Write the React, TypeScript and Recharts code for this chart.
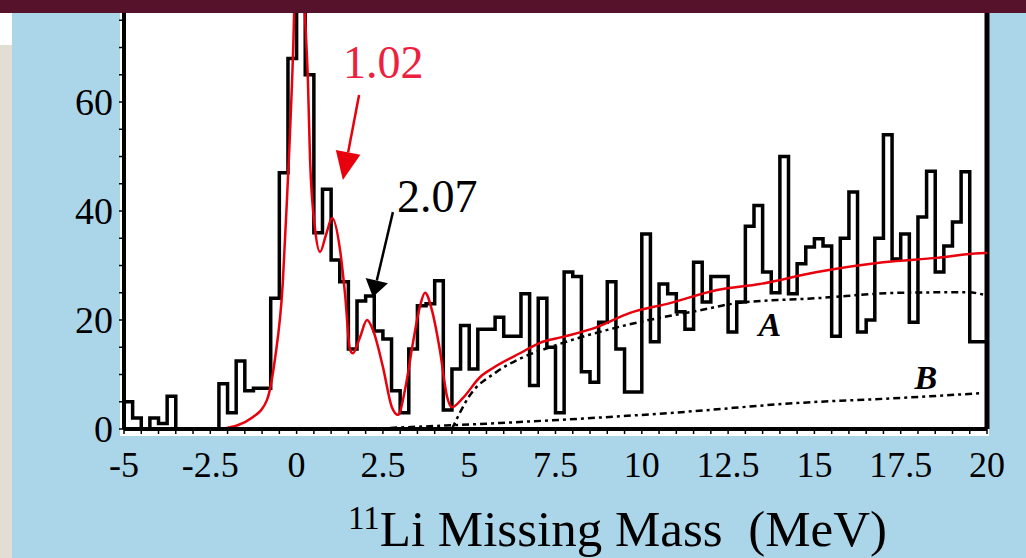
import React from 'react';
import { ComposedChart, Line, XAxis, YAxis, ReferenceLine, ReferenceDot } from 'recharts';

const SERIF = "'Liberation Serif', 'Times New Roman', serif";

// Histogram: bins of 0.25 MeV starting at -5 MeV (counts per bin)
const binStart = -5;
const binWidth = 0.25;
const counts = [
  5, 2, 0, 2, 1, 6, 0, 0, 0, 0,
  0, 8.3, 3, 12.5, 7, 7.5, 7.5, 24, 47, 68,
  110, 65, 36, 44, 31, 27, 14.7, 23.5, 24.4, 18,
  16.5, 7, 3, 14.7, 22.6, 23, 27.2, 3.5, 11, 19,
  11, 18.3, 18.3, 20.5, 17, 17, 24.8, 8, 24, 15,
  3, 28.8, 28, 10.5, 8.6, 19.6, 27, 14.7, 6.8, 6.8,
  35.8, 16, 26.6, 24.8, 21.5, 18.3, 30.6, 23.3, 28, 28,
  17.8, 23.3, 37.2, 41, 28.8, 25, 50, 24.8, 30.3, 33.4,
  34.9, 33.6, 17, 35, 43.5, 17.8, 20, 35, 54, 31.2,
  35.8, 19.6, 38.9, 47.3, 28.8, 33.6, 38, 47.2, 16, 16,
];

// Red fit curve
const fitE = [-2.16, -1.26, -0.86, -0.63, -0.4, -0.28, -0.1, 0.07, 0.24, 0.33, 0.39, 0.53, 0.68, 0.85, 1.03, 1.26, 1.4, 1.55, 1.63, 1.84, 2.04, 2.21, 2.5, 2.76, 2.94, 3.14, 3.37, 3.57, 3.72, 3.92, 4.15, 4.36, 4.5, 4.82, 5.31, 5.69, 6.47, 7.05, 7.72, 8.7, 9.66, 10.82, 12.18, 13.42, 15.08, 16.99, 18.55, 19.94, 20];
const fitV = [0, 2.2, 5.3, 12.7, 26.8, 42, 69.5, 110, 76.5, 63.5, 49.4, 37, 32.5, 35.6, 38.7, 32.8, 25, 14.5, 13.9, 16.9, 20, 18.2, 11.4, 4, 2.6, 7.2, 15.8, 22.4, 25, 21.8, 14.5, 5.9, 4, 5.7, 9.5, 11.2, 13.9, 15.8, 16.9, 18.7, 21.3, 23.1, 25.5, 26.6, 28.8, 30.6, 31.4, 32.3, 32.3];

// Background curve A
const curveAE = [4.5, 5.0, 5.8, 6.5, 7.34, 9.57, 11.69, 12.76, 15.07, 17.5, 19.42, 19.94];
const curveAV = [0, 6, 10.5, 13, 15, 19.1, 21.8, 23.1, 24, 25, 25.1, 24.6];

// Background curve B
const curveBE = [2.71, 5.89, 10.73, 14.58, 17.5, 19.88];
const curveBV = [0.2, 1.1, 2.9, 4.8, 5.7, 6.6];

const xMajorTicks = [-5, -2.5, 0, 2.5, 5, 7.5, 10, 12.5, 15, 17.5, 20];
const xTickLabels = ['-5', '-2.5', '0', '2.5', '5', '7.5', '10', '12.5', '15', '17.5', '20'];
const yMajorTicks = [0, 20, 40, 60, 80];
const yTickLabels = ['0', '20', '40', '60', '80'];

const xMinorTicks = Array.from({ length: 51 }, (_, i) => -5 + i * 0.5);
const yMinorTicks = Array.from({ length: 17 }, (_, i) => i * 5);

const histData = counts
  .map((c, i) => ({ x: binStart + i * binWidth, y: c }))
  .concat([{ x: 20, y: counts[counts.length - 1] }]);
const fitData = fitE.map((e, i) => ({ x: e, y: fitV[i] }));
const aData = curveAE.map((e, i) => ({ x: e, y: curveAV[i] }));
const bData = curveBE.map((e, i) => ({ x: e, y: curveBV[i] }));

const XTick = (props: any) => {
  const { x, y, payload } = props;
  const idx = xMajorTicks.indexOf(payload.value);
  if (idx < 0) return <g />;
  return (
    <text x={x} y={y + 31} textAnchor="middle" dominantBaseline="central" fontSize={36} fontFamily={SERIF} fill="#000">
      {xTickLabels[idx]}
    </text>
  );
};

const YTick = (props: any) => {
  const { x, y, payload } = props;
  const idx = yMajorTicks.indexOf(payload.value);
  if (idx < 0) return <g />;
  return (
    <text x={x - 6} y={y} textAnchor="end" dominantBaseline="central" fontSize={38} fontFamily={SERIF} fill="#000">
      {yTickLabels[idx]}
    </text>
  );
};

const makeArrow = (color: string, label: string, labelColor: string, headLen: number, headHalf: number, tdx: number, tdy: number) =>
  (props: any) => {
    const { x1, y1, x2, y2 } = props;
    const ang = Math.atan2(y2 - y1, x2 - x1);
    const bx = x2 - headLen * Math.cos(ang);
    const by = y2 - headLen * Math.sin(ang);
    const px = -Math.sin(ang) * headHalf;
    const py = Math.cos(ang) * headHalf;
    return (
      <g>
        <line x1={x1} y1={y1} x2={bx} y2={by} stroke={color} strokeWidth={2.5} />
        <polygon points={`${x2},${y2} ${bx + px},${by + py} ${bx - px},${by - py}`} fill={color} />
        <text x={x1 + tdx} y={y1 + tdy} fontSize={46} fontFamily={SERIF} fill={labelColor}>
          {label}
        </text>
      </g>
    );
  };

const redArrow = makeArrow('#e8000c', '1.02', '#ee2040', 28, 12.5, -16, -17);
const blackArrow = makeArrow('#000', '2.07', '#000', 17, 11.5, 4, 0);

const letterShape = (letter: string) => (props: any) => (
  <text x={props.cx} y={props.cy} textAnchor="middle" dominantBaseline="central" fontSize={34} fontWeight="bold" fontStyle="italic" fontFamily={SERIF} fill="#000">
    {letter}
  </text>
);

export default function App() {
  return (
    <div style={{ position: 'absolute', left: 0, top: 0, width: 1026, height: 558, overflow: 'hidden', background: '#abd6ea' }}>
      <div style={{ position: 'absolute', left: 0, top: 45, width: 12, height: 513, background: '#e3ded3' }} />
      <div style={{ position: 'absolute', left: 0, top: 12, width: 12, height: 33, background: '#ffffff' }} />
      <div style={{ position: 'absolute', left: 120, top: 0, width: 869, height: 436, background: '#ffffff' }} />
      <div style={{ position: 'absolute', left: 0, top: -20 }}>
        <ComposedChart width={1026} height={578} margin={{ top: 0, right: 39, bottom: 0, left: 0 }}>
          <XAxis
            type="number"
            dataKey="x"
            domain={[-5, 20]}
            ticks={xMinorTicks}
            interval={0}
            allowDataOverflow
            height={129}
            axisLine={{ stroke: '#000', strokeWidth: 4 }}
            tickLine={{ stroke: '#000', strokeWidth: 1.5 }}
            tickSize={5}
            tickMargin={0}
            tick={<XTick />}
          />
          <YAxis
            type="number"
            domain={[0, 82.39]}
            ticks={yMinorTicks}
            interval={0}
            allowDataOverflow
            width={124}
            axisLine={{ stroke: '#000', strokeWidth: 4 }}
            tickLine={{ stroke: '#000', strokeWidth: 1.5 }}
            tickSize={5}
            tickMargin={0}
            tick={<YTick />}
          />
          <ReferenceLine x={20} stroke="#000" strokeWidth={5} />
          <Line data={histData} dataKey="y" type="stepAfter" stroke="#000" strokeWidth={3.5} dot={false} isAnimationActive={false} />
          <Line data={aData} dataKey="y" type="monotone" stroke="#000" strokeWidth={2.5} strokeDasharray="7 4 3 4" dot={false} isAnimationActive={false} />
          <Line data={bData} dataKey="y" type="monotone" stroke="#000" strokeWidth={2.5} strokeDasharray="7 4 3 4" dot={false} isAnimationActive={false} />
          <Line data={fitData} dataKey="y" type="monotone" stroke="#e8000c" strokeWidth={2.5} dot={false} isAnimationActive={false} />
          <ReferenceLine segment={[{ x: 1.81, y: 61.3 }, { x: 1.34, y: 45.7 }]} shape={redArrow} />
          <ReferenceLine segment={[{ x: 2.79, y: 39.8 }, { x: 2.21, y: 24.2 }]} shape={blackArrow} />
          <ReferenceDot x={13.71} y={19.1} r={0} shape={letterShape('A')} />
          <ReferenceDot x={18.23} y={9.4} r={0} shape={letterShape('B')} />
        </ComposedChart>
      </div>
      <div style={{ position: 'absolute', left: 0, top: 0, width: 1026, height: 13, background: '#56112b' }} />
      <div style={{ position: 'absolute', left: 348, top: 504, fontFamily: SERIF, fontSize: 51, lineHeight: 1, color: '#000', whiteSpace: 'pre' }}>
        <span style={{ fontSize: 33, position: 'relative', top: -17 }}>11</span>
        <span>Li Missing Mass  (MeV)</span>
      </div>
    </div>
  );
}
